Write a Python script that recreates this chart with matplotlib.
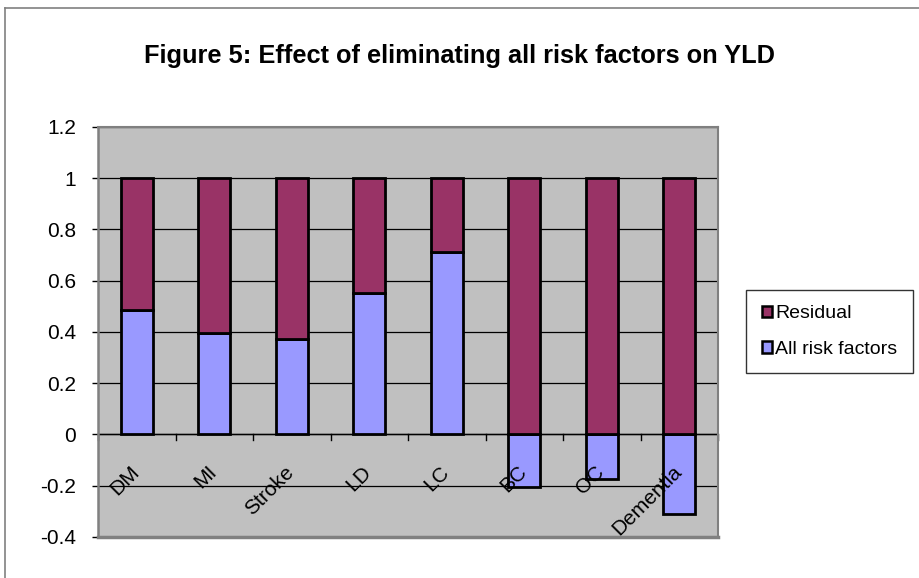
import matplotlib
matplotlib.use("Agg")
import matplotlib.pyplot as plt
from matplotlib.patches import Patch
from matplotlib.lines import Line2D

categories = ["DM", "MI", "Stroke", "LD", "LC", "BC", "OC", "Dementia"]
all_risk = [0.484, 0.395, 0.374, 0.552, 0.712, -0.206, -0.175, -0.311]
residual = [0.516, 0.605, 0.626, 0.448, 0.288, 1.0, 1.0, 1.0]
yticks = [-0.4, -0.2, 0, 0.2, 0.4, 0.6, 0.8, 1, 1.2]
ytick_labels = ["-0.4", "-0.2", "0", "0.2", "0.4", "0.6", "0.8", "1", "1.2"]

plt.rcParams['font.family'] = ['Liberation Sans', 'DejaVu Sans']

W, H = 919, 578
fig = plt.figure(figsize=(W / 100, H / 100), dpi=100)
fig.patch.set_facecolor('white')

# chart-area frame (top and left visible)
fig.add_artist(Line2D([5 / W, 5 / W], [0, 1 - 8 / H], color='#808080', lw=1.2))
fig.add_artist(Line2D([5 / W, 1], [1 - 8 / H, 1 - 8 / H], color='#808080', lw=1.2))

ax = fig.add_axes([98 / W, 1 - 537 / H, (718 - 98) / W, (537 - 126.8) / H])
ax.set_facecolor('#C0C0C0')

x = list(range(len(categories)))
ar_col = '#9999FF'
res_col = '#993366'
bw = 0.41
bottoms = [a if a > 0 else 0 for a in all_risk]
ax.bar(x, all_risk, width=bw, color=ar_col, edgecolor='black', linewidth=2.0, zorder=3)
ax.bar(x, residual, bottom=bottoms, width=bw, color=res_col, edgecolor='black', linewidth=2.0, zorder=3)

ax.set_xlim(-0.5, len(categories) - 0.5)
ax.set_ylim(-0.4, 1.2)
ax.set_yticks(yticks)
ax.set_yticklabels(ytick_labels, fontsize=15)
ax.yaxis.grid(True, color='black', linewidth=0.9, zorder=1)
ax.set_axisbelow(True)
ax.tick_params(axis='y', direction='out', length=4, width=1, pad=12, color='black')

for s in ['top', 'right']:
    ax.spines[s].set_color('#808080')
    ax.spines[s].set_linewidth(1.5)
ax.spines['left'].set_color('#808080')
ax.spines['left'].set_linewidth(1.8)
ax.spines['bottom'].set_visible(False)

# x axis at zero
ax.axhline(0, color='black', linewidth=1.0, zorder=2)
ax.set_xticks([])
for b in [i + 0.5 for i in range(len(categories) - 1)] + [-0.5, len(categories) - 0.5]:
    ax.plot([b, b], [0, -0.02], color='black', lw=1.0, zorder=2, clip_on=False)
# bottom frame line
ax.plot([-0.5, len(categories) - 0.5], [-0.4, -0.4], color='#808080', lw=2.5, clip_on=False, zorder=4)

for i, c in enumerate(categories):
    ax.text(i + 0.08, -0.108, c, rotation=45, ha='right', va='top', fontsize=15, zorder=5)

fig.text(0.5, 1 - 56 / H, "Figure 5: Effect of eliminating all risk factors on YLD",
         ha='center', va='center', fontsize=18.3, fontweight='bold')

handles = [Patch(facecolor=res_col, edgecolor='black', linewidth=1.8, label='Residual'),
           Patch(facecolor=ar_col, edgecolor='black', linewidth=1.8, label='All risk factors')]
leg = fig.legend(handles=handles, loc='center', bbox_to_anchor=(829.5 / W, 1 - 331.5 / H),
                 fontsize=14, frameon=True, fancybox=False, handlelength=0.55, handleheight=0.55,
                 handletextpad=0.15, labelspacing=0.95, borderpad=0.8, borderaxespad=0)
leg.get_frame().set_edgecolor('black')
leg.get_frame().set_linewidth(1.0)

fig.savefig('out.png', dpi=100)
